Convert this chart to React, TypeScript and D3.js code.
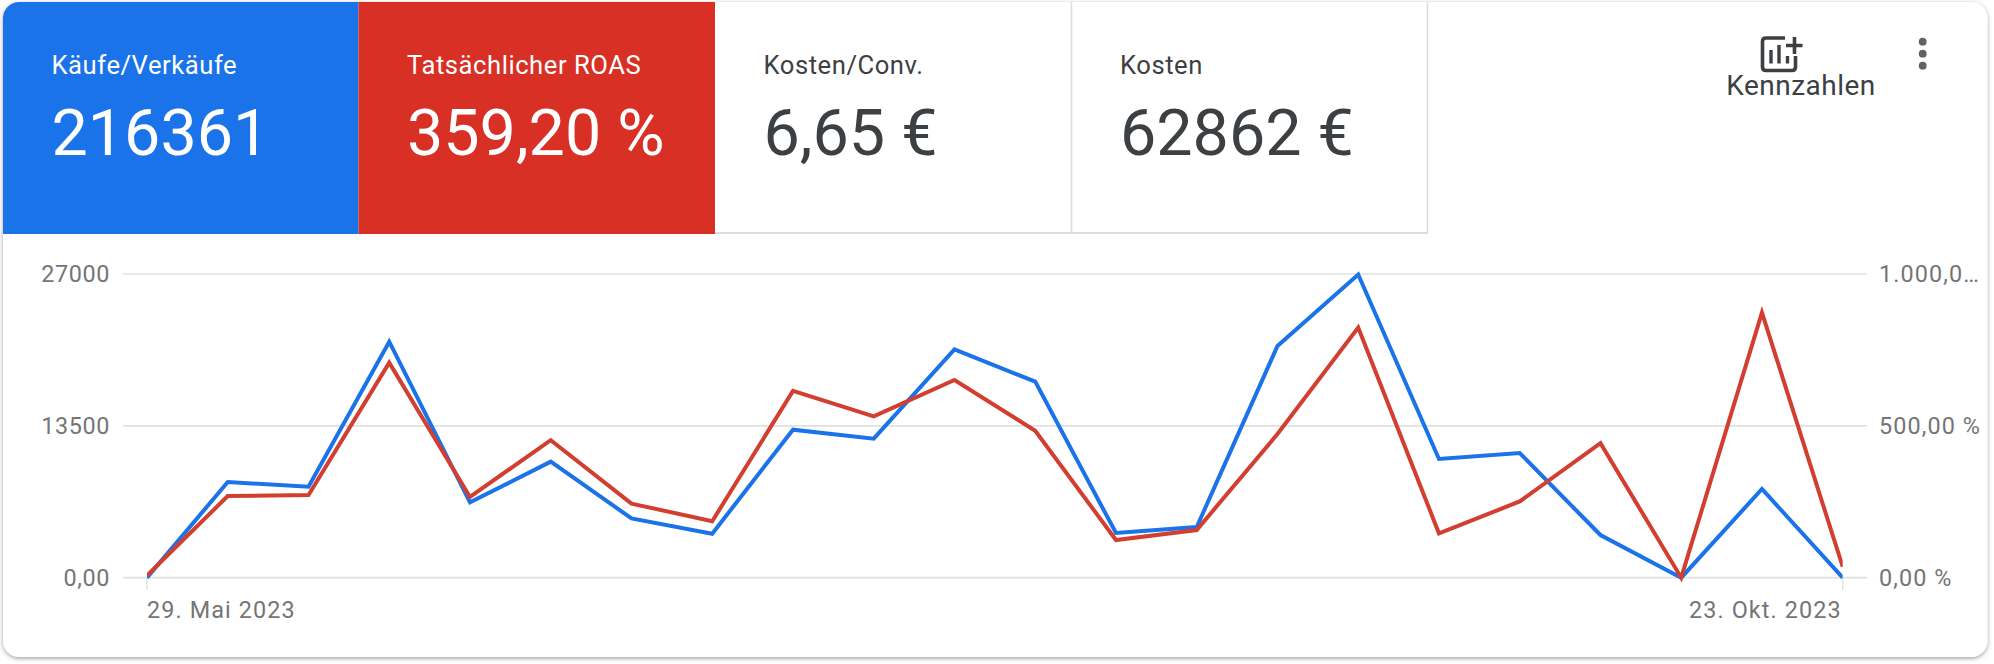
import React from "react";
import * as d3 from "d3";

const weeks = ["2023-05-29","2023-06-05","2023-06-12","2023-06-19","2023-06-26","2023-07-03","2023-07-10","2023-07-17","2023-07-24","2023-07-31","2023-08-07","2023-08-14","2023-08-21","2023-08-28","2023-09-04","2023-09-11","2023-09-18","2023-09-25","2023-10-02","2023-10-09","2023-10-16","2023-10-23"];
const purchases = [0,8506,8091,20984,6698,10314,5276,3912,13159,12359,20302,17427,3972,4505,20598,26950,10551,11085,3794,0,7884,0];
const roas = [7,269,272,708,266,453,244,186,615,531,651,484,124,157,473,824,146,251,443,0,873,36];
const leftTicks = [{ v: 0, label: "0,00" }, { v: 13500, label: "13500" }, { v: 27000, label: "27000" }];
const rightTicks = [{ v: 0, label: "0,00 %" }, { v: 500, label: "500,00 %" }, { v: 1000, label: "1.000,0…" }];
const dateLabels = ["29. Mai 2023", "23. Okt. 2023"];
const tileTitles = ["Käufe/Verkäufe", "Tatsächlicher ROAS", "Kosten/Conv.", "Kosten"];
const tileValues = ["216361", "359,20 %", "6,65 €", "62862 €"];
const tileFills = ["#1a73e8", "#d93025", "#ffffff", "#ffffff"];
const tileTextColors = ["#ffffff", "#ffffff", "#3c4043", "#3c4043"];

const W = 1994, H = 664;
const plotL = 147, plotR = 1842.7, plotT = 274, plotB = 577.7;
const tileEdges = [3, 358.5, 715, 1071.5, 1427.5];
const FONT = "Roboto, sans-serif";
const TICK = "#757575";

export default function App() {
  const x = d3.scalePoint<string>().domain(weeks).range([plotL, plotR]);
  const yL = d3.scaleLinear().domain([0, 27000]).range([plotB, plotT]);
  const yR = d3.scaleLinear().domain([0, 1000]).range([plotB, plotT]);
  const blue = d3.line<number>().x((_, i) => x(weeks[i])!).y((d) => yL(d));
  const red = d3.line<number>().x((_, i) => x(weeks[i])!).y((d) => yR(d));

  return (
    <svg width={W} height={H} viewBox={`0 0 ${W} ${H}`} style={{ position: "fixed", left: 0, top: 0, display: "block", fontFamily: FONT }}>
      <defs>
        <filter id="sh" x="-2%" y="-5%" width="104%" height="110%">
          <feDropShadow dx="0" dy="1.5" stdDeviation="2.2" floodColor="#3c4043" floodOpacity="0.5" />
        </filter>
        <clipPath id="card"><rect x={3} y={2} width={1984.5} height={655} rx={16} /></clipPath>
        <clipPath id="plot"><rect x={plotL} y={plotT - 6} width={plotR - plotL} height={plotB - plotT + 12} /></clipPath>
      </defs>
      <rect width={W} height={H} fill="#ffffff" />
      <rect x={3} y={2} width={1984.5} height={655} rx={16} fill="#fff" filter="url(#sh)" />
      <g clipPath="url(#card)">
        {tileTitles.map((t, i) => (
          <rect key={t} x={tileEdges[i]} y={2} width={tileEdges[i + 1] - tileEdges[i]} height={232} fill={tileFills[i]} />
        ))}
      </g>
      <line x1={715} x2={1428} y1={233} y2={233} stroke="#dadce0" strokeWidth={2} />
      <line x1={1071.5} x2={1071.5} y1={2} y2={233} stroke="#dadce0" strokeWidth={1.6} />
      <line x1={1427.5} x2={1427.5} y1={2} y2={234} stroke="#dadce0" strokeWidth={1.6} />
      {tileTitles.map((t, i) => (
        <g key={t} fill={tileTextColors[i]}>
          <text x={tileEdges[i] + 48.5} y={74} fontSize={25.6} fontWeight={400} letterSpacing={0.55}>{t}</text>
          <text x={tileEdges[i] + 48.5} y={155} fontSize={64.6} fontWeight={400}>{tileValues[i]}</text>
        </g>
      ))}

      {/* Kennzahlen button */}
      <g fill="none" stroke="#3c4043">
        <path d="M1785 38 H1766 Q1762.5 38 1762.5 41.5 V67 Q1762.5 70.5 1766 70.5 H1792 Q1795.5 70.5 1795.5 67 V56" strokeWidth={3.6} />
        <path d="M1771 50 V63.5 M1779 45 V63.5 M1787.5 56 V63.5" strokeWidth={3.4} />
        <path d="M1786 45.5 H1802.5 M1794.5 37 V54" strokeWidth={3.6} />
      </g>
      <text x={1801} y={94.5} textAnchor="middle" fontSize={28} letterSpacing={0.5} fill="#3c4043">Kennzahlen</text>
      {[41.7, 53.7, 65.7].map((cy) => (
        <circle key={cy} cx={1922.7} cy={cy} r={3.9} fill="#5f6368" />
      ))}

      {/* grid */}
      {leftTicks.map((t) => (
        <line key={t.v} x1={123} x2={1867} y1={yL(t.v)} y2={yL(t.v)} stroke="#e0e0e0" strokeWidth={1.7} />
      ))}
      {[plotL, plotR].map((px) => (
        <line key={px} x1={px} x2={px} y1={plotB} y2={590} stroke="#e0e0e0" strokeWidth={1.3} />
      ))}
      {leftTicks.map((t) => (
        <text key={t.v} x={110} y={yL(t.v) + 8.3} textAnchor="end" fontSize={23.4} letterSpacing={0.6} fill={TICK}>{t.label}</text>
      ))}
      {rightTicks.map((t) => (
        <text key={t.v} x={1879} y={yR(t.v) + 8.3} fontSize={23.4} letterSpacing={1.1} fill={TICK}>{t.label}</text>
      ))}
      <text x={plotL} y={618} fontSize={23.4} letterSpacing={1.1} fill={TICK}>{dateLabels[0]}</text>
      <text x={plotR - 1} y={618} textAnchor="end" fontSize={23.4} letterSpacing={1.1} fill={TICK}>{dateLabels[1]}</text>

      {/* series */}
      <g clipPath="url(#plot)" fill="none" strokeWidth={4} strokeLinejoin="miter">
        <path d={blue(purchases)!} stroke="#1a73e8" />
        <path d={red(roas)!} stroke="#d23f31" />
      </g>
    </svg>
  );
}
